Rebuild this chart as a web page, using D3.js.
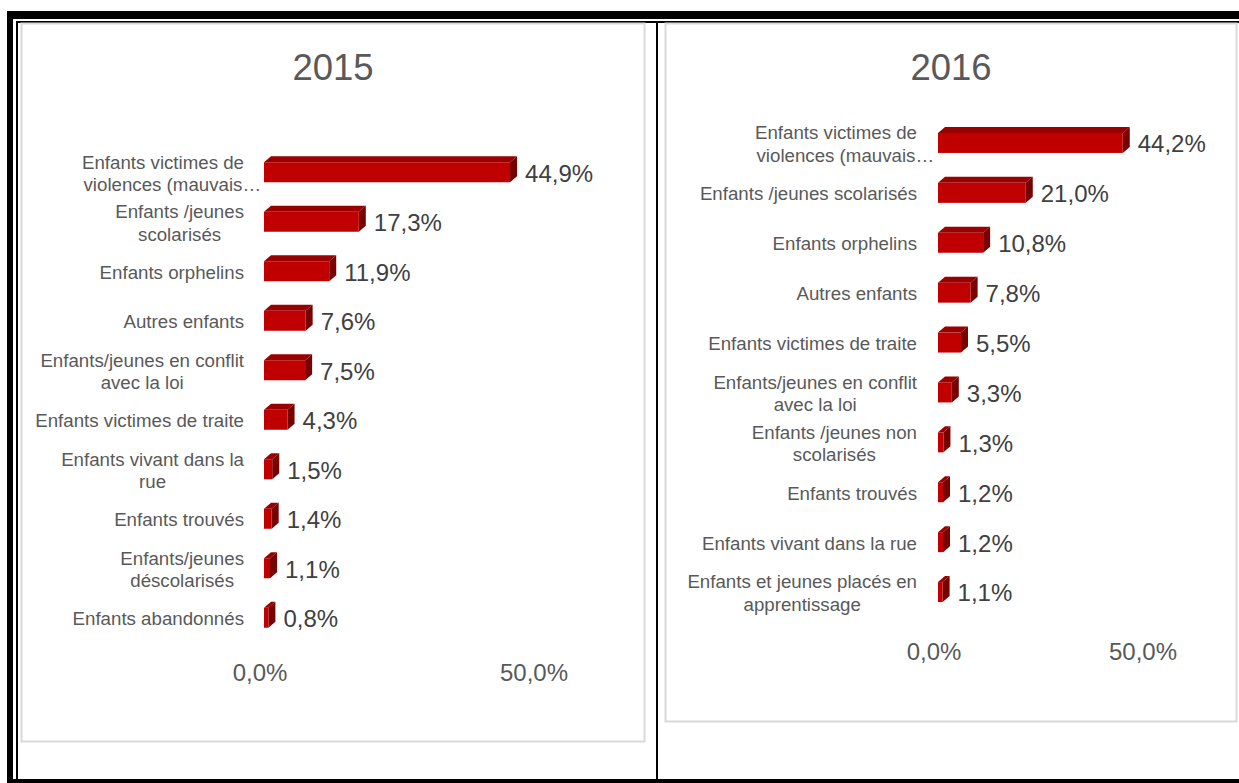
<!DOCTYPE html>
<html><head><meta charset="utf-8">
<script src="https://cdn.jsdelivr.net/npm/d3@7"></script>
<style>
html,body{margin:0;padding:0;background:#fff;}
svg{display:block;font-family:"Liberation Sans",Arial,sans-serif;}
</style></head>
<body><svg id="c" width="1239" height="783"></svg>
<script>
// ---- data ----
const titles = ["2015", "2016"];
const categories2015 = [
  "Enfants victimes de\nviolences (mauvais…",
  "Enfants /jeunes\nscolarisés",
  "Enfants orphelins",
  "Autres enfants",
  "Enfants/jeunes en conflit\navec la loi",
  "Enfants victimes de traite",
  "Enfants vivant dans la\nrue",
  "Enfants trouvés",
  "Enfants/jeunes\ndéscolarisés",
  "Enfants abandonnés"
];
const values2015 = [44.9, 17.3, 11.9, 7.6, 7.5, 4.3, 1.5, 1.4, 1.1, 0.8];
const categories2016 = [
  "Enfants victimes de\nviolences (mauvais…",
  "Enfants /jeunes scolarisés",
  "Enfants orphelins",
  "Autres enfants",
  "Enfants victimes de traite",
  "Enfants/jeunes en conflit\navec la loi",
  "Enfants /jeunes non\nscolarisés",
  "Enfants trouvés",
  "Enfants vivant dans la rue",
  "Enfants et jeunes placés en\napprentissage"
];
const values2016 = [44.2, 21.0, 10.8, 7.8, 5.5, 3.3, 1.3, 1.2, 1.2, 1.1];
const tickValues = [0, 50];

const fmt = v => d3.format(".1f")(v).replace(".", ",") + "%";
const svg = d3.select("#c");

// ---- frame (table borders) ----
const frame = svg.append("g");
frame.append("rect").attr("x",7).attr("y",11).attr("width",1232).attr("height",8).attr("fill","#000");
frame.append("rect").attr("x",7).attr("y",11).attr("width",6).attr("height",772).attr("fill","#000");
frame.append("rect").attr("x",16).attr("y",21).attr("width",1223).attr("height",2).attr("fill","#000");
frame.append("rect").attr("x",16).attr("y",21).attr("width",2).attr("height",762).attr("fill","#000");
frame.append("rect").attr("x",7).attr("y",779).attr("width",1232).attr("height",4).attr("fill","#000");
frame.append("rect").attr("x",656).attr("y",21).attr("width",2).attr("height",760).attr("fill","#000");

const catFont = 18.7;

function chart(cfg){
  const g = svg.append("g");
  g.append("rect").attr("x",cfg.box[0]+0.5).attr("y",cfg.box[1]+0.5)
    .attr("width",cfg.box[2]).attr("height",cfg.box[3])
    .attr("fill","#fff").attr("stroke","#d9d9d9").attr("stroke-width",2);
  g.append("text").attr("x",cfg.titleX).attr("y",cfg.titleY)
    .attr("text-anchor","middle").attr("font-size",36.5).attr("fill","#595959").text(cfg.title);

  const x = d3.scaleLinear().domain([0,50]).range(cfg.xRange);
  const y = d3.scaleBand().domain(cfg.cats).range(cfg.yRange).paddingInner(0);
  const h = 20, dx = 7, dy = 6;

  const rows = g.selectAll("g.row").data(cfg.cats.map((c,i)=>({c, v: cfg.vals[i]})))
    .enter().append("g").attr("class","row");

  rows.each(function(d){
    const r = d3.select(this);
    const cy = y(d.c) + y.bandwidth()/2;
    const x0 = x(0), x1 = x(d.v), top = cy - h/2;
    r.append("path").attr("d",`M${x0},${top}L${x0+dx},${top-dy}L${x1+dx},${top-dy}L${x1},${top}Z`).attr("fill","#9a0000");
    r.append("path").attr("d",`M${x1},${top}L${x1+dx},${top-dy}L${x1+dx},${top+h-dy}L${x1},${top+h}Z`).attr("fill","#780000");
    r.append("rect").attr("x",x0).attr("y",top).attr("width",Math.max(0,x1-x0)).attr("height",h).attr("fill","#c00000");
    r.append("text").attr("x",x1+dx+8).attr("y",cy+1).attr("dy","0.35em")
      .attr("font-size",24).attr("fill","#404040").text(fmt(d.v));
    const lines = d.c.split("\n");
    const lh = 22.5;
    const t = r.append("g");
    const texts = lines.map((ln,i)=> t.append("text")
      .attr("y", cy + (i - (lines.length-1)/2)*lh + 1).attr("dy","0.35em")
      .attr("font-size",catFont).attr("fill","#595959").text(ln));
    const widths = texts.map(tx=>{
      const full = tx.node().getComputedTextLength();
      if (tx.text().endsWith("…")) {
        const tmp = t.append("text").attr("font-size",catFont).text("…");
        const w = tmp.node().getComputedTextLength(); tmp.remove();
        return full - w;
      }
      return full;
    });
    const maxW = d3.max(widths);
    const cx = cfg.labelRight - maxW/2;
    texts.forEach((tx,i)=> tx.attr("x", cx - widths[i]/2));
  });

  g.selectAll("text.tick").data(tickValues).enter().append("text").attr("class","tick")
    .attr("x", d => x(d) - 4).attr("y", cfg.tickY).attr("dy","0.35em")
    .attr("text-anchor","middle").attr("font-size",24).attr("fill","#595959").text(fmt);
}

chart({title: titles[0], cats: categories2015, vals: values2015,
  box:[21,23,623,718], titleX:333, titleY:80,
  xRange:[264,538], yRange:[147.5,642.5], labelRight:244, tickY:673});
chart({title: titles[1], cats: categories2016, vals: values2016,
  box:[665,23,571,698], titleX:951, titleY:80,
  xRange:[938,1147], yRange:[118,617], labelRight:917, tickY:652});
</script></body></html>
